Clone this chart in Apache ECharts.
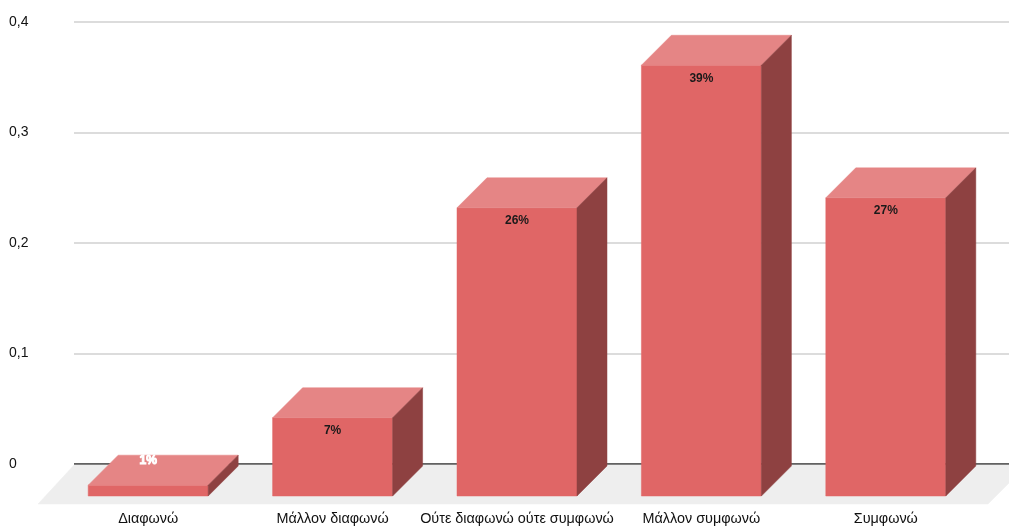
<!DOCTYPE html>
<html><head><meta charset="utf-8">
<style>html,body{margin:0;padding:0;background:#fff}#c{width:1009px;height:527px}</style>
<script src="https://cdn.jsdelivr.net/npm/echarts@6/dist/echarts.min.js"></script>
</head><body><div id="c"></div>
<script>
const categories = ['Διαφωνώ','Μάλλον διαφωνώ','Ούτε διαφωνώ ούτε συμφωνώ','Μάλλον συμφωνώ','Συμφωνώ'];
const values = [0.008, 0.069, 0.259, 0.388, 0.268];
const percentLabels = ['1%','7%','26%','39%','27%'];
const yTicks = [0, 0.1, 0.2, 0.3, 0.4];

const DEPTH = 30, BAR_W = 120, BELOW = 32;
const FONT = '"Liberation Sans", Arial, sans-serif';
const chart = echarts.init(document.getElementById('c'), null, {renderer:'canvas'});

function poly(points, fill, z2){
  return {type:'polygon', shape:{points}, z2, style:{fill, stroke:fill, lineWidth:0.5}};
}
function renderBar(params, api){
  const i = api.value(0), v = api.value(1);
  const cx = api.coord([i, 0])[0];
  const y0 = api.coord([i, 0])[1];
  const yv = api.coord([i, v])[1];
  const l = cx - BAR_W/2, r = cx + BAR_W/2;
  const ft = yv + DEPTH, fb = y0 + BELOW;
  const small = (fb - ft) < 20;
  return {type:'group', children:[
    poly([[l,ft],[r,ft],[r,fb],[l,fb]], '#E06666', 1),
    poly([[l,ft],[l+DEPTH,yv],[r+DEPTH,yv],[r,ft]], '#E58585', 1),
    poly([[r,ft],[r+DEPTH,yv],[r+DEPTH,y0+2],[r,fb]], '#8E4141', 1),
    {type:'text', z2:5, style:{
      x: cx, y: small ? yv+6 : ft+13,
      text: percentLabels[i], align:'center', verticalAlign:'middle',
      font:'bold 12px '+FONT,
      fill: small ? '#fff' : '#1a1a1a',
      stroke: small ? '#fff' : null, lineWidth: small ? 1 : 0
    }}
  ]};
}
function renderFloor(params, api){
  const cs = params.coordSys;
  const y0 = api.coord([0,0])[1];
  const d = 39;
  return poly([[cs.x, y0+1],[cs.x+cs.width+18, y0+1],[cs.x+cs.width+18-d, y0+d+1],[cs.x-d+3, y0+d+1]], '#EEEEEE', 0);
}

chart.setOption({
  animation:false,
  backgroundColor:'#fff',
  grid:[
    {left:74, top:22, width:935, height:442},
    {left:56, top:22, width:922, height:442}
  ],
  xAxis:[
    {gridIndex:0, type:'value', min:0, max:1, show:true,
      axisLine:{show:false}, axisTick:{show:false}, axisLabel:{show:false}, splitLine:{show:false}},
    {gridIndex:1, type:'category', data:categories,
      axisLine:{show:false}, axisTick:{show:false}, splitLine:{show:false},
      axisLabel:{interval:0, margin:48, color:'#111', fontFamily:FONT, fontSize:14.4}}
  ],
  yAxis:[
    {gridIndex:0, type:'value', min:yTicks[0], max:yTicks[yTicks.length-1], interval:0.1,
      axisLine:{show:false}, axisTick:{show:false},
      splitLine:{show:true, lineStyle:{color:'#D0D0D0', width:1.5}},
      axisLabel:{align:'left', margin:65, color:'#111', fontFamily:FONT, fontSize:14,
        formatter:v=> v===0 ? '0' : v.toFixed(1).replace('.',',')}},
    {gridIndex:1, type:'value', min:yTicks[0], max:yTicks[yTicks.length-1], interval:0.1, show:false,
      splitLine:{show:false}}
  ],
  series:[
    {type:'custom', xAxisIndex:0, yAxisIndex:0, z:1, silent:true, clip:false, data:[[0,0]],
      renderItem:renderFloor, encode:{x:0,y:1}},
    {type:'line', xAxisIndex:0, yAxisIndex:0, z:1.5, silent:true, symbol:'none',
      data:[[0,0],[1,0]], lineStyle:{color:'#3a3a3a', width:1.5}},
    {type:'custom', xAxisIndex:1, yAxisIndex:1, z:3, silent:true, clip:false,
      data:values.map((v,i)=>[i,v]), renderItem:renderBar, encode:{x:0,y:1}}
  ]
});
</script></body></html>
